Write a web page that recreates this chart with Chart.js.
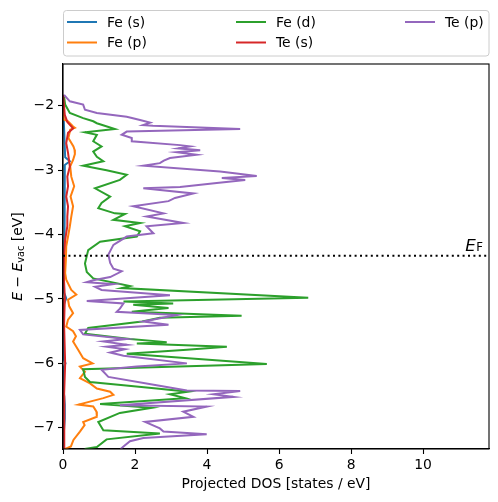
<!DOCTYPE html>
<html lang="en">
<head>
  <meta charset="UTF-8">
  <title>Projected DOS</title>
  <style>
    body { margin: 0; background: #ffffff; }
    #grafico { display: block; }
  </style>
</head>
<body>
  <canvas id="grafico" width="498" height="502"></canvas>

<script src="https://cdn.jsdelivr.net/npm/chart.js"></script>
<script>
  // Dados (energia em eV, DOS em estados/eV)
  const nomes = ["Fe (s)", "Fe (p)", "Fe (d)", "Te (s)", "Te (p)"];
  const cores = ["#1f77b4", "#ff7f0e", "#2ca02c", "#d62728", "#9467bd"];

  const energiaFeS = [-1.83, -2.20, -2.50, -2.80, -2.86, -2.92, -3.20, -3.60, -4.00, -4.40, -4.90, -4.99, -5.08, -5.50, -5.95, -6.00, -6.05, -6.40, -6.64, -6.86, -7.10, -7.33];
  const dosFeS     = [0.00, 0.02, 0.04, 0.06, 0.19, 0.05, 0.04, 0.05, 0.04, 0.02, 0.03, 0.09, 0.03, 0.02, 0.03, 0.07, 0.03, 0.02, 0.05, 0.05, 0.02, 0.02];

  const energiaFeP = [-1.83, -2.21, -2.24, -2.32, -2.34, -2.37, -2.50, -2.63, -2.68, -2.75, -2.84, -2.94, -3.10, -3.25, -3.41, -3.56, -3.72, -3.87, -4.03, -4.18, -4.39, -4.60, -4.70, -4.86, -4.93, -5.01, -5.11, -5.22, -5.32, -5.43, -5.50, -5.58, -5.66, -5.79, -5.92, -6.00, -6.05, -6.13, -6.23, -6.31, -6.39, -6.44, -6.49, -6.54, -6.64, -6.67, -6.75, -6.83, -6.91, -6.96, -7.06, -7.19, -7.29, -7.33];
  const dosFeP     = [0.00, 0.02, 0.14, 0.28, 0.33, 0.20, 0.15, 0.29, 0.32, 0.33, 0.28, 0.20, 0.23, 0.31, 0.21, 0.28, 0.23, 0.19, 0.14, 0.09, 0.08, 0.06, 0.09, 0.23, 0.37, 0.14, 0.17, 0.28, 0.14, 0.09, 0.28, 0.36, 0.28, 0.42, 0.56, 0.82, 0.47, 0.61, 0.47, 0.75, 0.94, 1.31, 1.40, 1.12, 0.43, 0.84, 0.93, 0.94, 0.56, 0.60, 0.47, 0.29, 0.22, 0.06];

  const energiaFeD = [-1.86, -1.98, -2.11, -2.19, -2.24, -2.27, -2.36, -2.41, -2.45, -2.55, -2.63, -2.71, -2.79, -2.86, -2.93, -3.00, -3.07, -3.15, -3.28, -3.41, -3.51, -3.59, -3.67, -3.68, -3.77, -3.82, -3.87, -3.95, -4.03, -4.11, -4.24, -4.45, -4.58, -4.68, -4.80, -4.83, -4.98, -5.04, -5.07, -5.09, -5.14, -5.20, -5.26, -5.29, -5.35, -5.45, -5.54, -5.62, -5.67, -5.69, -5.74, -5.79, -5.85, -6.01, -6.09, -6.21, -6.29, -6.34, -6.39, -6.44, -6.48, -6.54, -6.63, -6.69, -6.77, -6.91, -7.04, -7.09, -7.18, -7.30, -7.33];
  const dosFeD     = [0.03, 0.06, 0.19, 0.56, 0.84, 0.94, 1.44, 0.61, 0.94, 0.84, 1.07, 0.84, 0.94, 1.12, 0.56, 1.21, 1.77, 1.58, 0.89, 1.31, 1.07, 0.98, 1.44, 1.72, 1.40, 2.14, 1.72, 2.14, 2.05, 1.03, 0.70, 0.61, 0.66, 0.84, 1.86, 1.63, 6.81, 1.68, 3.06, 1.95, 2.93, 1.91, 4.96, 2.69, 2.20, 0.70, 0.61, 1.86, 2.88, 2.05, 4.55, 3.44, 1.77, 5.66, 0.56, 0.61, 0.75, 1.68, 2.60, 3.48, 2.97, 3.39, 1.03, 2.46, 1.58, 0.98, 1.12, 2.69, 1.21, 0.94, 0.60];

  const energiaTeS = [-1.83, -2.14, -2.25, -2.35, -2.42, -2.58, -2.73, -2.94, -3.10, -3.25, -3.41, -3.56, -3.72, -3.87, -4.08, -4.29, -4.60, -4.99, -5.40, -6.00, -6.50, -7.00, -7.33];
  const dosTeS     = [0.00, 0.05, 0.12, 0.28, 0.14, 0.09, 0.14, 0.19, 0.12, 0.14, 0.09, 0.14, 0.12, 0.12, 0.06, 0.03, 0.02, 0.05, 0.03, 0.06, 0.03, 0.04, 0.03];

  const energiaTeP = [-1.83, -1.93, -1.98, -2.06, -2.11, -2.17, -2.22, -2.26, -2.30, -2.31, -2.36, -2.40, -2.45, -2.50, -2.55, -2.61, -2.63, -2.66, -2.69, -2.72, -2.76, -2.81, -2.85, -2.89, -2.93, -3.02, -3.05, -3.09, -3.12, -3.15, -3.20, -3.26, -3.28, -3.36, -3.43, -3.48, -3.56, -3.67, -3.72, -3.82, -3.87, -3.98, -4.03, -4.16, -4.31, -4.44, -4.53, -4.57, -4.66, -4.71, -4.74, -4.77, -4.81, -4.86, -4.94, -5.03, -5.07, -5.15, -5.20, -5.25, -5.35, -5.40, -5.48, -5.55, -5.62, -5.66, -5.71, -5.74, -5.78, -5.83, -5.88, -6.00, -6.05, -6.10, -6.21, -6.34, -6.42, -6.43, -6.48, -6.52, -6.65, -6.67, -6.75, -6.83, -6.91, -7.01, -7.06, -7.10, -7.16, -7.21, -7.29, -7.33];
  const dosTeP     = [0.03, 0.19, 0.56, 0.61, 0.94, 1.77, 2.14, 2.42, 2.22, 2.50, 4.92, 1.77, 1.63, 1.91, 1.91, 3.25, 3.53, 3.20, 3.81, 3.16, 3.71, 2.97, 2.80, 2.69, 2.23, 4.36, 4.82, 5.38, 4.41, 5.06, 4.27, 3.25, 2.23, 3.62, 3.11, 2.93, 1.95, 2.79, 2.32, 3.34, 2.32, 2.51, 1.77, 1.40, 1.26, 1.31, 1.40, 1.63, 1.31, 0.84, 0.66, 1.40, 0.89, 1.07, 2.97, 0.66, 1.68, 1.58, 1.49, 3.16, 2.23, 2.93, 0.47, 0.56, 1.77, 1.12, 1.77, 1.21, 1.72, 1.31, 1.68, 3.44, 2.05, 1.07, 1.26, 2.60, 3.44, 4.92, 4.18, 4.73, 1.58, 3.99, 3.34, 3.62, 2.28, 2.69, 2.79, 3.99, 2.23, 1.86, 1.68, 1.60];

  const energiaFermi = -4.33;
  const limitesX = [0, 11.83];
  const limitesY = [-7.33, -1.35];

  const energias = [energiaFeS, energiaFeP, energiaFeD, energiaTeS, energiaTeP];
  const valores = [dosFeS, dosFeP, dosFeD, dosTeS, dosTeP];

  const fonte = '"DejaVu Sans", sans-serif';

  // Monta os datasets (x = DOS, y = energia)
  const datasets = nomes.map((nome, i) => ({
    label: nome,
    data: energias[i].map((e, k) => ({ x: valores[i][k], y: e })),
    borderColor: cores[i],
    backgroundColor: cores[i],
    borderWidth: 2,
    showLine: true,
    pointRadius: 0,
    tension: 0,
    order: nomes.length - i // último desenhado por cima
  }));

  // Desenha legenda, moldura, linha de Fermi e títulos dos eixos
  const extras = {
    id: 'extras',
    afterDatasetsDraw(chart) {
      const ctx = chart.ctx;
      const a = chart.chartArea;
      const sx = chart.scales.x, sy = chart.scales.y;

      // linha pontilhada do nível de Fermi
      const yF = sy.getPixelForValue(energiaFermi);
      ctx.save();
      ctx.beginPath();
      ctx.rect(a.left, a.top, a.right - a.left, a.bottom - a.top);
      ctx.clip();
      ctx.strokeStyle = '#000';
      ctx.lineWidth = 2;
      ctx.setLineDash([2, 3.4]);
      ctx.beginPath();
      ctx.moveTo(sx.getPixelForValue(0), yF);
      ctx.lineTo(a.right, yF);
      ctx.stroke();
      ctx.restore();

      // rótulo E_F
      ctx.save();
      ctx.fillStyle = '#000';
      ctx.textBaseline = 'alphabetic';
      const xE = sx.getPixelForValue(11.17);
      ctx.font = 'italic 16.7px ' + fonte;
      ctx.fillText('E', xE, yF - 5);
      const wE = ctx.measureText('E').width;
      ctx.font = '11.7px ' + fonte;
      ctx.fillText('F', xE + wE + 0.5, yF - 5);
      ctx.restore();
    },
    afterDraw(chart) {
      const ctx = chart.ctx;
      const a = chart.chartArea;

      // moldura
      ctx.save();
      ctx.strokeStyle = '#000';
      ctx.lineWidth = 1.1;
      ctx.strokeRect(a.left, a.top, a.right - a.left, a.bottom - a.top);
      ctx.restore();

      // legenda em 3 colunas (ordem por coluna)
      ctx.save();
      const bx = 63.5, by = 10.5, bw = 425.5, bh = 45.5;
      ctx.fillStyle = 'rgba(255,255,255,0.8)';
      ctx.strokeStyle = '#cccccc';
      ctx.lineWidth = 1;
      ctx.beginPath();
      ctx.roundRect(bx, by, bw, bh, 3);
      ctx.fill();
      ctx.stroke();
      const colX = [67, 236, 405];
      const linhaY = [22, 42.5];
      ctx.font = '13.9px ' + fonte;
      ctx.textBaseline = 'middle';
      nomes.forEach((nome, i) => {
        const c = Math.floor(i / 2), r = i % 2;
        ctx.strokeStyle = cores[i];
        ctx.lineWidth = 2;
        ctx.beginPath();
        ctx.moveTo(colX[c], linhaY[r]);
        ctx.lineTo(colX[c] + 30, linhaY[r]);
        ctx.stroke();
        ctx.fillStyle = '#000';
        ctx.fillText(nome, colX[c] + 40, linhaY[r] + 1);
      });
      ctx.restore();

      // título do eixo x
      ctx.save();
      ctx.fillStyle = '#000';
      ctx.font = '13.9px ' + fonte;
      ctx.textAlign = 'center';
      ctx.textBaseline = 'middle';
      ctx.fillText('Projected DOS [states / eV]', (a.left + a.right) / 2, 484);
      ctx.restore();

      // título do eixo y: E − E_vac [eV]
      ctx.save();
      ctx.fillStyle = '#000';
      ctx.translate(18, (a.top + a.bottom) / 2);
      ctx.rotate(-Math.PI / 2);
      ctx.textBaseline = 'middle';
      const partes = [
        { t: 'E', f: 'italic 13.9px ' + fonte, dy: 0 },
        { t: ' \u2212 ', f: '13.9px ' + fonte, dy: 0 },
        { t: 'E', f: 'italic 13.9px ' + fonte, dy: 0 },
        { t: 'vac', f: '9.7px ' + fonte, dy: 3 },
        { t: ' [eV]', f: '13.9px ' + fonte, dy: 0 }
      ];
      let total = 0;
      partes.forEach(p => { ctx.font = p.f; p.w = ctx.measureText(p.t).width; total += p.w; });
      let x0 = -total / 2;
      partes.forEach(p => { ctx.font = p.f; ctx.fillText(p.t, x0, p.dy); x0 += p.w; });
      ctx.restore();
    }
  };

  new Chart(document.getElementById('grafico').getContext('2d'), {
    type: 'scatter',
    data: { datasets: datasets },
    options: {
      responsive: false,
      animation: false,
      events: [],
      layout: { padding: { left: 0, right: 9, top: 64, bottom: 0 } },
      plugins: { legend: { display: false }, tooltip: { enabled: false } },
      scales: {
        x: {
          type: 'linear',
          min: limitesX[0],
          max: limitesX[1],
          afterFit: (s) => { s.height = 53; },
          grid: { drawOnChartArea: false, drawTicks: true, tickLength: 5, color: '#000', tickWidth: 1.1 },
          border: { display: true, color: '#000', width: 1.1 },
          ticks: {
            stepSize: 2,
            includeBounds: false,
            padding: 3,
            color: '#000',
            font: { family: fonte, size: 13.9 },
            maxRotation: 0
          }
        },
        y: {
          type: 'linear',
          min: limitesY[0],
          max: limitesY[1],
          afterFit: (s) => { s.width = 63; },
          grid: { drawOnChartArea: false, drawTicks: true, tickLength: 5, color: '#000', tickWidth: 1.1 },
          border: { display: true, color: '#000', width: 1.1 },
          ticks: {
            stepSize: 1,
            includeBounds: false,
            padding: 4,
            color: '#000',
            font: { family: fonte, size: 13.9 },
            callback: (v) => (v < 0 ? '\u2212' + Math.abs(v) : String(v))
          }
        }
      }
    },
    plugins: [extras]
  });
</script>
</body>
</html>
